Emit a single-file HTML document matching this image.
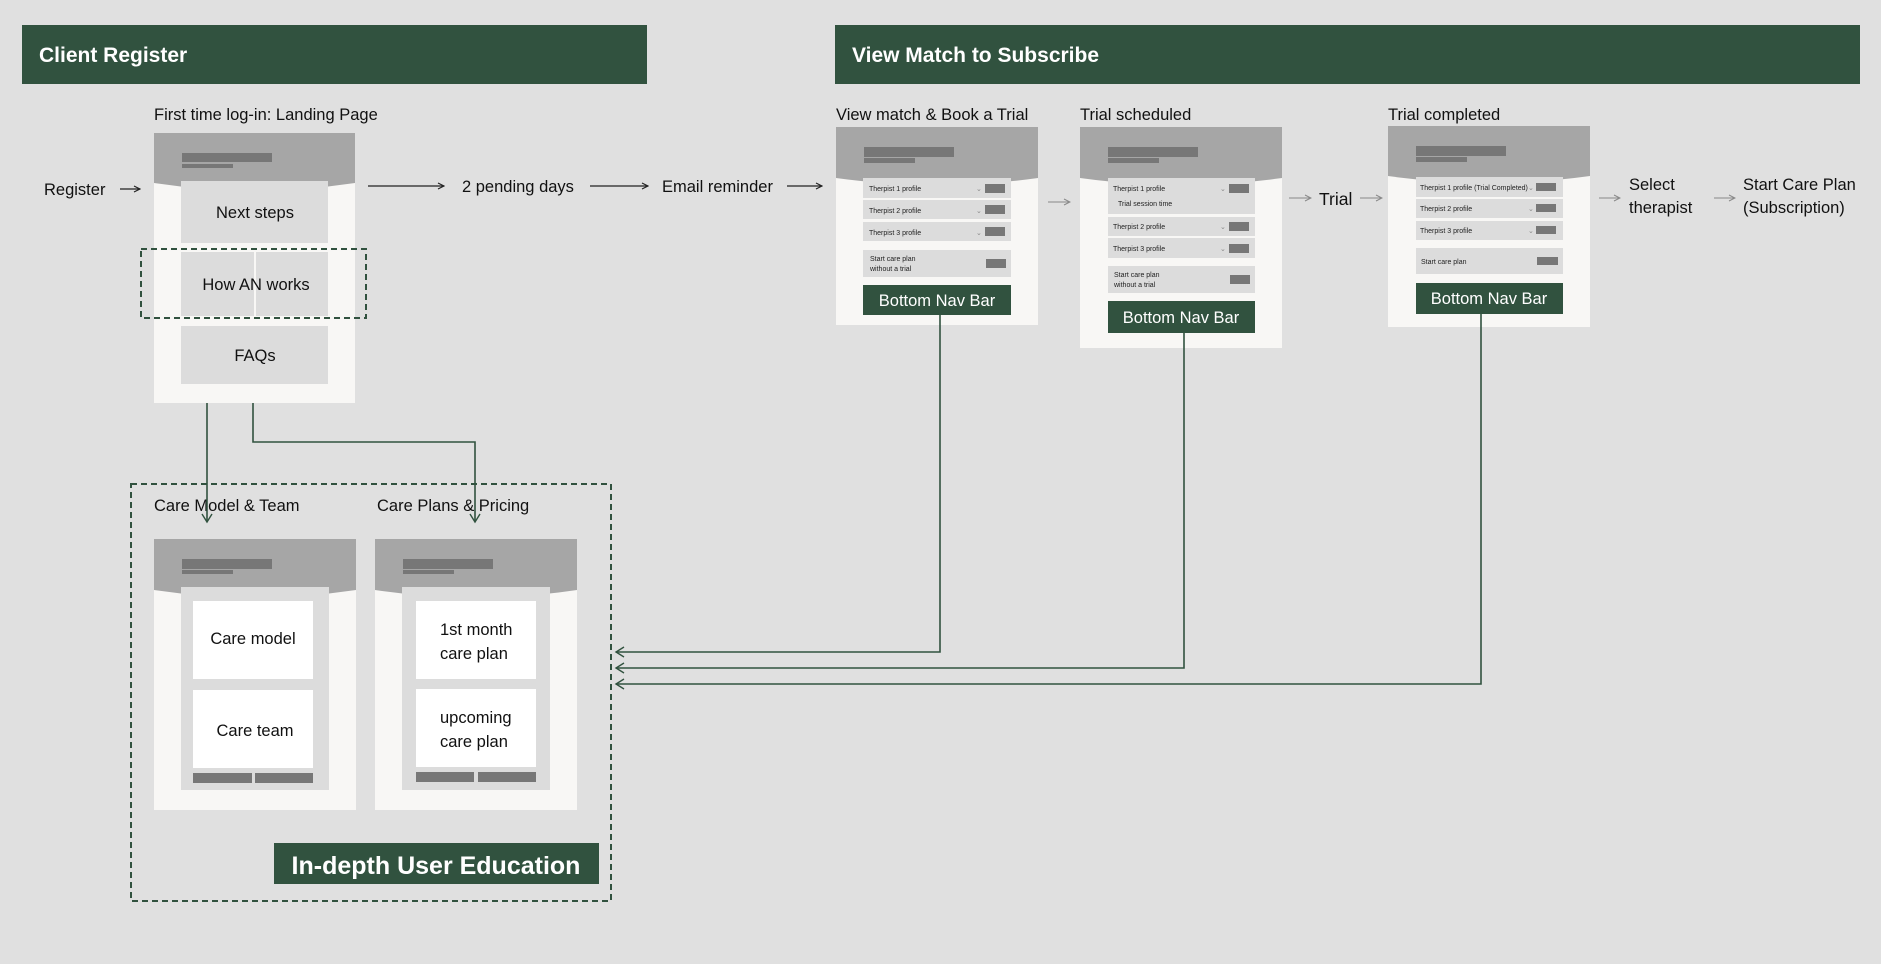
<!DOCTYPE html>
<html><head><meta charset="utf-8"><style>
html,body{margin:0;padding:0;background:#e0e0e0;}
svg{display:block;font-family:"Liberation Sans",sans-serif;}
</style></head><body>
<svg width="1881" height="964" viewBox="0 0 1881 964" xmlns="http://www.w3.org/2000/svg">
<defs>
<marker id="ar" markerWidth="12" markerHeight="12" refX="10" refY="6" orient="auto" markerUnits="userSpaceOnUse">
<path d="M2,1 L10,6 L2,11" fill="none" stroke="#31523f" stroke-width="1.4"/></marker>
<marker id="ak" markerWidth="10" markerHeight="10" refX="9" refY="5" orient="auto" markerUnits="userSpaceOnUse">
<path d="M3,2 L9,5 L3,8" fill="none" stroke="#222" stroke-width="1.2"/></marker>
<marker id="ag" markerWidth="10" markerHeight="10" refX="9" refY="5" orient="auto" markerUnits="userSpaceOnUse">
<path d="M3,2 L9,5 L3,8" fill="none" stroke="#888" stroke-width="1"/></marker>
</defs>
<rect width="1881" height="964" fill="#e0e0e0"/>
<rect x="22" y="25" width="625" height="59" fill="#31523f"/>
<text x="39" y="62" font-size="21" font-weight="bold" fill="#fff">Client Register</text>
<rect x="835" y="25" width="1025" height="59" fill="#31523f"/>
<text x="852" y="62" font-size="21" font-weight="bold" fill="#fff">View Match to Subscribe</text>

<text x="154" y="120" font-size="16.5" fill="#111">First time log-in: Landing Page</text>
<rect x="154" y="133" width="201" height="270" fill="#f8f7f5"/>
<path d="M154,133 H355 V183 Q254,198 154,183 Z" fill="#a6a6a6"/>
<rect x="182" y="153" width="90" height="9" fill="#777"/>
<rect x="182" y="164" width="51" height="4" fill="#777"/>
<rect x="181" y="181" width="147" height="62" fill="#dcdcdc"/>
<rect x="181" y="252" width="73" height="64" fill="#dcdcdc"/>
<rect x="256" y="252" width="72" height="64" fill="#dcdcdc"/>
<rect x="181" y="326" width="147" height="58" fill="#dcdcdc"/>
<text x="255" y="218" font-size="16.5" text-anchor="middle" fill="#111">Next steps</text>
<text x="256" y="290" font-size="16.5" text-anchor="middle" fill="#111">How AN works</text>
<text x="255" y="361" font-size="16.5" text-anchor="middle" fill="#111">FAQs</text>
<rect x="141" y="249" width="225" height="69" fill="none" stroke="#31523f" stroke-width="2" stroke-dasharray="6,4"/>

<text x="44" y="195" font-size="16.5" fill="#111">Register</text>
<line x1="120" y1="189" x2="140" y2="189" stroke="#222" stroke-width="1.2" marker-end="url(#ak)"/>
<line x1="368" y1="186" x2="444" y2="186" stroke="#222" stroke-width="1.2" marker-end="url(#ak)"/>
<text x="462" y="192" font-size="16.5" fill="#111">2 pending days</text>
<line x1="590" y1="186" x2="648" y2="186" stroke="#222" stroke-width="1.2" marker-end="url(#ak)"/>
<text x="662" y="192" font-size="16.5" fill="#111">Email reminder</text>
<line x1="787" y1="186" x2="822" y2="186" stroke="#222" stroke-width="1.2" marker-end="url(#ak)"/>

<text x="836" y="120" font-size="16.5" fill="#111">View match &amp; Book a Trial</text>
<rect x="836" y="127" width="202" height="198" fill="#f8f7f5"/>
<path d="M836,127 H1038 V178 Q937,192 836,178 Z" fill="#a6a6a6"/>
<rect x="864" y="147" width="90" height="10" fill="#777"/>
<rect x="864" y="158" width="51" height="5" fill="#777"/>
<g font-size="7" fill="#222">
<rect x="863" y="178" width="148" height="20" fill="#dcdcdc"/><text x="869" y="191">Therpist 1 profile</text><text x="976" y="191" fill="#888">⌄</text><rect x="985" y="184" width="20" height="9" fill="#777"/>
<rect x="863" y="200" width="148" height="19" fill="#dcdcdc"/><text x="869" y="213">Therpist 2 profile</text><text x="976" y="213" fill="#888">⌄</text><rect x="985" y="205" width="20" height="9" fill="#777"/>
<rect x="863" y="222" width="148" height="19" fill="#dcdcdc"/><text x="869" y="235">Therpist 3 profile</text><text x="976" y="235" fill="#888">⌄</text><rect x="985" y="227" width="20" height="9" fill="#777"/>
<rect x="863" y="250" width="148" height="27" fill="#dcdcdc"/><text x="870" y="261">Start care plan</text><text x="870" y="271">without a trial</text><rect x="986" y="259" width="20" height="9" fill="#777"/>
</g>
<rect x="863" y="285" width="148" height="30" fill="#31523f"/>
<text x="937" y="306" font-size="16.5" text-anchor="middle" fill="#fff">Bottom Nav Bar</text>
<line x1="1048" y1="202" x2="1070" y2="202" stroke="#888" stroke-width="1" marker-end="url(#ag)"/>

<text x="1080" y="120" font-size="16.5" fill="#111">Trial scheduled</text>
<rect x="1080" y="127" width="202" height="221" fill="#f8f7f5"/>
<path d="M1080,127 H1282 V178 Q1181,192 1080,178 Z" fill="#a6a6a6"/>
<rect x="1108" y="147" width="90" height="10" fill="#777"/>
<rect x="1108" y="158" width="51" height="5" fill="#777"/>
<g font-size="7" fill="#222">
<rect x="1108" y="178" width="147" height="36" fill="#dcdcdc"/><text x="1113" y="191">Therpist 1 profile</text><text x="1220" y="191" fill="#888">⌄</text><rect x="1229" y="184" width="20" height="9" fill="#777"/><text x="1118" y="206">Trial session time</text>
<rect x="1108" y="217" width="147" height="19" fill="#dcdcdc"/><text x="1113" y="229">Therpist 2 profile</text><text x="1220" y="229" fill="#888">⌄</text><rect x="1229" y="222" width="20" height="9" fill="#777"/>
<rect x="1108" y="238" width="147" height="20" fill="#dcdcdc"/><text x="1113" y="251">Therpist 3 profile</text><text x="1220" y="251" fill="#888">⌄</text><rect x="1229" y="244" width="20" height="9" fill="#777"/>
<rect x="1108" y="266" width="147" height="27" fill="#dcdcdc"/><text x="1114" y="277">Start care plan</text><text x="1114" y="287">without a trial</text><rect x="1230" y="275" width="20" height="9" fill="#777"/>
</g>
<rect x="1108" y="301" width="147" height="32" fill="#31523f"/>
<text x="1181" y="323" font-size="16.5" text-anchor="middle" fill="#fff">Bottom Nav Bar</text>
<line x1="1289" y1="198" x2="1311" y2="198" stroke="#888" stroke-width="1" marker-end="url(#ag)"/>
<text x="1319" y="205" font-size="17.5" fill="#111">Trial</text>
<line x1="1360" y1="198" x2="1382" y2="198" stroke="#888" stroke-width="1" marker-end="url(#ag)"/>

<text x="1388" y="120" font-size="16.5" fill="#111">Trial completed</text>
<rect x="1388" y="126" width="202" height="201" fill="#f8f7f5"/>
<path d="M1388,126 H1590 V176 Q1489,190 1388,176 Z" fill="#a6a6a6"/>
<rect x="1416" y="146" width="90" height="10" fill="#777"/>
<rect x="1416" y="157" width="51" height="5" fill="#777"/>
<g font-size="7" fill="#222">
<rect x="1416" y="177" width="147" height="20" fill="#dcdcdc"/><text x="1420" y="190">Therpist 1 profile (Trial Completed)</text><text x="1528" y="190" fill="#888">⌄</text><rect x="1536" y="183" width="20" height="8" fill="#777"/>
<rect x="1416" y="199" width="147" height="19" fill="#dcdcdc"/><text x="1420" y="211">Therpist 2 profile</text><text x="1528" y="211" fill="#888">⌄</text><rect x="1536" y="204" width="20" height="8" fill="#777"/>
<rect x="1416" y="221" width="147" height="19" fill="#dcdcdc"/><text x="1420" y="233">Therpist 3 profile</text><text x="1528" y="233" fill="#888">⌄</text><rect x="1536" y="226" width="20" height="8" fill="#777"/>
<rect x="1416" y="248" width="147" height="26" fill="#dcdcdc"/><text x="1421" y="264">Start care plan</text><rect x="1537" y="257" width="21" height="8" fill="#777"/>
</g>
<rect x="1416" y="283" width="147" height="31" fill="#31523f"/>
<text x="1489" y="304" font-size="16.5" text-anchor="middle" fill="#fff">Bottom Nav Bar</text>
<line x1="1599" y1="198" x2="1620" y2="198" stroke="#888" stroke-width="1" marker-end="url(#ag)"/>
<text x="1629" y="190" font-size="16.5" fill="#111">Select</text>
<text x="1629" y="213" font-size="16.5" fill="#111">therapist</text>
<line x1="1714" y1="198" x2="1735" y2="198" stroke="#888" stroke-width="1" marker-end="url(#ag)"/>
<text x="1743" y="190" font-size="16.5" fill="#111">Start Care Plan</text>
<text x="1743" y="213" font-size="16.5" fill="#111">(Subscription)</text>

<rect x="131" y="484" width="480" height="417" fill="none" stroke="#31523f" stroke-width="2" stroke-dasharray="6,4"/>
<text x="154" y="511" font-size="16.5" fill="#111">Care Model &amp; Team</text>
<text x="377" y="511" font-size="16.5" fill="#111">Care Plans &amp; Pricing</text>

<rect x="154" y="539" width="202" height="271" fill="#f8f7f5"/>
<path d="M154,539 H356 V590 Q255,605 154,590 Z" fill="#a6a6a6"/>
<rect x="182" y="559" width="90" height="10" fill="#777"/>
<rect x="182" y="570" width="51" height="4" fill="#777"/>
<rect x="181" y="587" width="148" height="203" fill="#dcdcdc"/>
<rect x="193" y="601" width="120" height="78" fill="#fff"/>
<rect x="193" y="690" width="120" height="78" fill="#fff"/>
<rect x="193" y="773" width="59" height="10" fill="#777"/>
<rect x="255" y="773" width="58" height="10" fill="#777"/>
<text x="253" y="644" font-size="16.5" text-anchor="middle" fill="#111">Care model</text>
<text x="255" y="736" font-size="16.5" text-anchor="middle" fill="#111">Care team</text>

<rect x="375" y="539" width="202" height="271" fill="#f8f7f5"/>
<path d="M375,539 H577 V590 Q476,605 375,590 Z" fill="#a6a6a6"/>
<rect x="403" y="559" width="90" height="10" fill="#777"/>
<rect x="403" y="570" width="51" height="4" fill="#777"/>
<rect x="402" y="587" width="148" height="203" fill="#dcdcdc"/>
<rect x="416" y="601" width="120" height="78" fill="#fff"/>
<rect x="416" y="689" width="120" height="78" fill="#fff"/>
<rect x="416" y="772" width="58" height="10" fill="#777"/>
<rect x="478" y="772" width="58" height="10" fill="#777"/>
<text x="440" y="635" font-size="16.5" fill="#111">1st month</text>
<text x="440" y="659" font-size="16.5" fill="#111">care plan</text>
<text x="440" y="723" font-size="16.5" fill="#111">upcoming</text>
<text x="440" y="747" font-size="16.5" fill="#111">care plan</text>

<rect x="274" y="843" width="325" height="41" fill="#31523f"/>
<text x="436" y="874" font-size="25" font-weight="bold" text-anchor="middle" fill="#fff">In-depth User Education</text>

<g fill="none" stroke="#31523f" stroke-width="1.6">
<path d="M207,403 V522" marker-end="url(#ar)"/>
<path d="M253,403 V442 H475 V522" marker-end="url(#ar)"/>
<path d="M940,315 V652 H616" marker-end="url(#ar)"/>
<path d="M1184,333 V668 H616" marker-end="url(#ar)"/>
<path d="M1481,314 V684 H616" marker-end="url(#ar)"/>
</g>
</svg>
</body></html>
